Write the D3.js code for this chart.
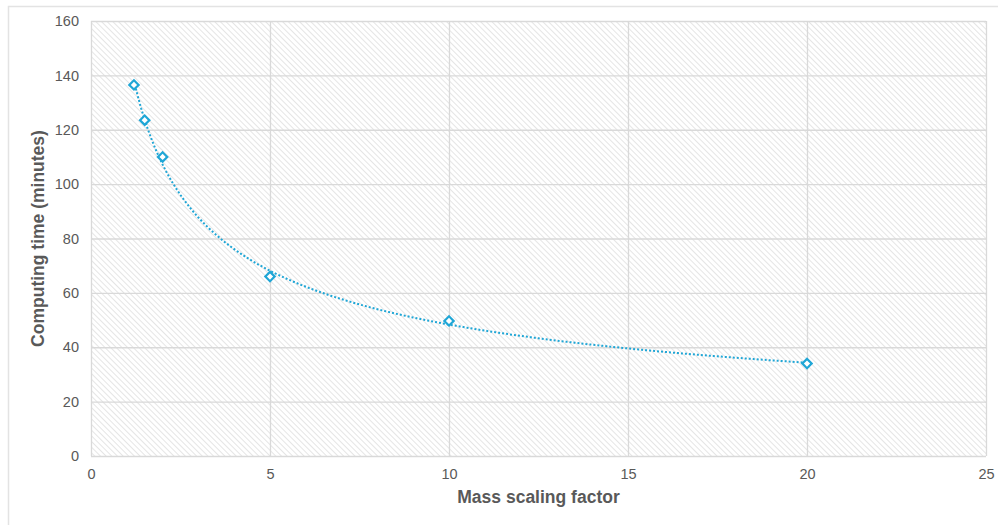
<!DOCTYPE html>
<html>
<head>
<meta charset="utf-8">
<script src="https://cdn.jsdelivr.net/npm/d3@7"></script>
<style>
  body { margin: 0; background: #fff; }
  svg { display: block; font-family: "Liberation Sans", Arial, sans-serif; }
</style>
</head>
<body>
<svg id="viz"></svg>
<script>
const width = 998;
const height = 525;

// data
const massScaling = [1.2, 1.5, 2, 5, 10, 20];
const computeMinutes = [136.5, 123.5, 110, 66, 49.7, 34];
const xTicks = [0, 5, 10, 15, 20, 25];
const yTicks = [0, 20, 40, 60, 80, 100, 120, 140, 160];

const BLUE = "#1fa6d6";
const GRID = "#d9d9d9";
const TEXT = "#595959";

const margin = { left: 91, right: 12, top: 21, bottom: 69 };

const svg = d3.select("#viz").attr("width", width).attr("height", height);

// outer chart frame
svg.append("rect")
    .attr("x", 8.5).attr("y", 6.5)
    .attr("width", width + 10).attr("height", height + 10)
    .attr("fill", "none").attr("stroke", "#e3e3e3").attr("stroke-width", 1.5);

const x = d3.scaleLinear().domain([0, 25]).range([margin.left, width - margin.right]);
const y = d3.scaleLinear().domain([0, 160]).range([height - margin.bottom, margin.top]);

// diagonal hatch fill ("\" direction)
const defs = svg.append("defs");
const pat = defs.append("pattern")
    .attr("id", "hatch")
    .attr("patternUnits", "userSpaceOnUse")
    .attr("width", 4).attr("height", 4)
    .attr("patternTransform", "rotate(-45)");
pat.append("rect").attr("width", 4).attr("height", 4).attr("fill", "#fff");
pat.append("line")
    .attr("x1", 0).attr("y1", 0).attr("x2", 0).attr("y2", 4)
    .attr("stroke", "#dadada").attr("stroke-width", 1.4);

svg.append("rect")
    .attr("x", x(0)).attr("y", y(160))
    .attr("width", x(25) - x(0)).attr("height", y(0) - y(160))
    .attr("fill", "url(#hatch)");

// gridlines
const grid = svg.append("g");
grid.selectAll(".gy").data(yTicks).enter().append("line")
    .attr("x1", x(0)).attr("x2", x(25))
    .attr("y1", d => y(d) + 0.5).attr("y2", d => y(d) + 0.5)
    .attr("stroke", GRID).attr("stroke-width", 1.3);
grid.selectAll(".gx").data(xTicks).enter().append("line")
    .attr("y1", y(160)).attr("y2", y(0))
    .attr("x1", d => x(d) + 0.5).attr("x2", d => x(d) + 0.5)
    .attr("stroke", GRID).attr("stroke-width", 1.3);

// axes
const xAxis = svg.append("g")
    .attr("transform", `translate(0,${y(0)})`)
    .call(d3.axisBottom(x).tickValues(xTicks).tickSize(0).tickPadding(13));
const yAxis = svg.append("g")
    .attr("transform", `translate(${x(0)},0)`)
    .call(d3.axisLeft(y).tickValues(yTicks).tickSize(0).tickPadding(12));
[xAxis, yAxis].forEach(a => {
    a.select(".domain").remove();
    a.selectAll("text").attr("fill", TEXT).style("font-size", "14.5px")
        .style("font-family", "'Liberation Sans', Arial, sans-serif");
});

// power trendline fitted (least squares in log space) from the points
const lx = massScaling.map(Math.log);
const ly = computeMinutes.map(Math.log);
const mx = d3.mean(lx), my = d3.mean(ly);
const b = d3.sum(lx, (v, i) => (v - mx) * (ly[i] - my)) / d3.sum(lx, v => (v - mx) * (v - mx));
const a = Math.exp(my - b * mx);
const trend = d3.range(massScaling[0], massScaling[massScaling.length - 1] + 0.001, 0.1)
    .map(v => [v, a * Math.pow(v, b)]);

svg.append("path")
    .datum(trend)
    .attr("fill", "none")
    .attr("stroke", BLUE)
    .attr("stroke-width", 2)
    .attr("stroke-dasharray", "2,2")
    .attr("d", d3.line().x(d => x(d[0])).y(d => y(d[1])));

// diamond markers
const pts = massScaling.map((v, i) => [v, computeMinutes[i]]);
svg.append("g").selectAll("path").data(pts).enter().append("path")
    .attr("transform", d => `translate(${x(d[0])},${y(d[1])}) rotate(45)`)
    .attr("d", "M-3.3,-3.3H3.3V3.3H-3.3Z")
    .attr("fill", "#fff")
    .attr("stroke", BLUE)
    .attr("stroke-width", 2.2);

// titles
svg.append("text")
    .attr("x", (x(0) + x(25)) / 2)
    .attr("y", 503)
    .attr("text-anchor", "middle")
    .attr("fill", TEXT)
    .style("font-size", "17.5px").style("font-weight", "bold")
    .text("Mass scaling factor");

svg.append("text")
    .attr("transform", `translate(44,${(y(0) + y(160)) / 2}) rotate(-90)`)
    .attr("text-anchor", "middle")
    .attr("fill", TEXT)
    .style("font-size", "17.5px").style("font-weight", "bold")
    .text("Computing time (minutes)");
</script>
</body>
</html>
